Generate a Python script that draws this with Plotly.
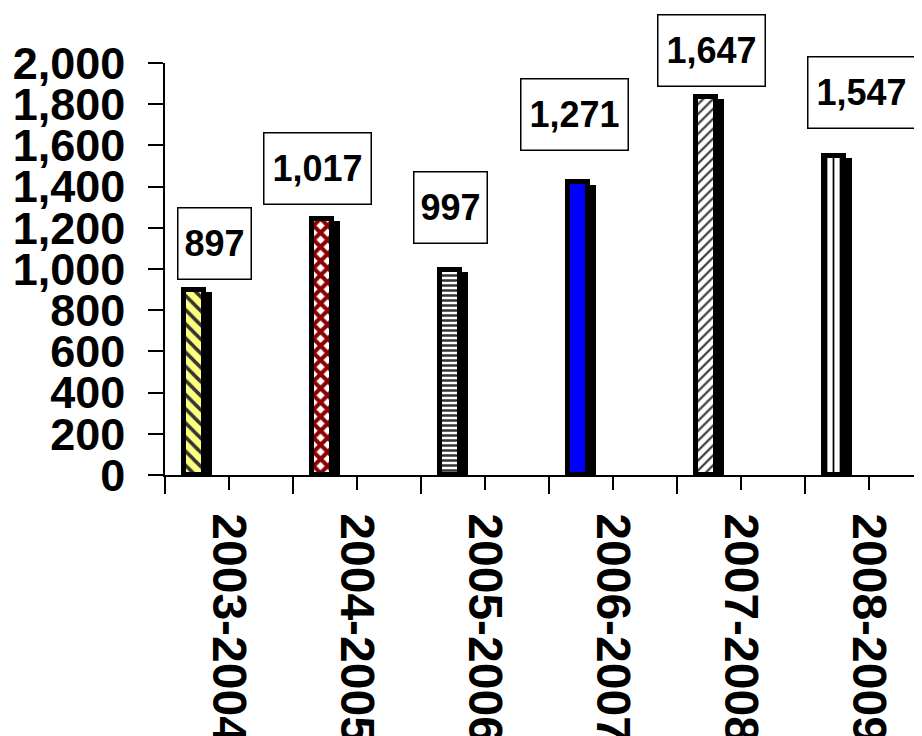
import plotly.graph_objects as go

# ---- data ----
periods = ["2003-2004", "2004-2005", "2005-2006", "2006-2007", "2007-2008", "2008-2009"]
bar_values = [897, 1245, 997, 1420, 1835, 1547]
label_values = [897, 1017, 997, 1271, 1647, 1547]

# ---- styles ----
bg_colors = ["#FFFF80", "#FFFFFF", "#FFFFFF", "#0000FF", "#FFFFFF", "#FFFFFF"]
fg_colors = ["#333333", "#8B0000", "#333333", "#0000FF", "#333333", "#000000"]
shapes = ["\\", "x", "-", "", "/", "|"]
p_sizes = [10, 10, 5, 8, 7, 7]
p_solid = [0.35, 0.65, 0.5, 0.3, 0.3, 0.25]

label_dx = [-0.113, -0.31, -0.27, -0.30, -0.23, -0.055]   # horizontal nudge of label boxes
label_gap = [10, 14, 26, 31, 10, 27]                        # px gap above bar top

FONT = "Liberation Sans, Arial, sans-serif"
x = list(range(len(periods)))
BAR_OFFSET, BAR_WIDTH = -0.35, 0.155

fig = go.Figure()

# drop-shadow bars
fig.add_trace(go.Bar(
    x=x, y=[v - 10 for v in bar_values],
    offset=-0.30, width=0.165,
    marker=dict(color="black", line=dict(width=0)),
    hoverinfo="skip", showlegend=False,
))

# one trace per bar so each gets its own fill pattern
for i, v in enumerate(bar_values):
    pat = dict(shape=shapes[i], fgcolor=fg_colors[i], bgcolor=bg_colors[i],
               size=p_sizes[i], solidity=p_solid[i], fillmode="replace")
    fig.add_trace(go.Bar(
        x=[x[i]], y=[v],
        offset=BAR_OFFSET, width=BAR_WIDTH,
        marker=dict(color=bg_colors[i], line=dict(color="black", width=5),
                    pattern=pat),
        name=periods[i], showlegend=False,
    ))

for i, (v, lab) in enumerate(zip(bar_values, label_values)):
    txt = f"{lab:,}"
    fig.add_annotation(
        x=i + label_dx[i], y=v, xref="x", yref="y",
        yanchor="bottom", xanchor="center", yshift=label_gap[i],
        text=txt, showarrow=False,
        font=dict(family=FONT, size=36, color="black", weight="bold"),
        bgcolor="white", bordercolor="black", borderwidth=1.5,
        width=70 if len(txt) <= 3 else 104, height=68,
    )

# page body has an 8px default margin -> figure is 8px smaller, margins shifted
fig.update_layout(
    width=914, height=728,
    margin=dict(l=157, r=0, t=55, b=261, autoexpand=False),
    paper_bgcolor="white", plot_bgcolor="white",
    bargap=0,
    barmode="overlay",
    xaxis=dict(
        range=[-0.5, 5.414], automargin=False,
        tickmode="array", tickvals=x, ticktext=periods,
        tickangle=90,
        ticks="outside", ticklen=13, tickwidth=1.5, tickcolor="black",
        minor=dict(tickmode="array", tickvals=[i - 0.5 for i in range(len(periods) + 1)],
                   ticks="outside", ticklen=17, tickwidth=1.5, tickcolor="black"),
        showline=True, linecolor="black", linewidth=1.5,
        showgrid=False, zeroline=False,
        tickfont=dict(family=FONT, size=48, color="black", weight="bold"),
        ticklabelstandoff=14,
        fixedrange=True,
    ),
    yaxis=dict(
        range=[0, 2000], dtick=200, tick0=0, tickformat=",", automargin=False,
        ticks="outside", ticklen=15, tickwidth=1.5, tickcolor="black",
        showline=True, linecolor="black", linewidth=1.5,
        showgrid=False, zeroline=False,
        tickfont=dict(family=FONT, size=45, color="black", weight="bold"),
        ticklabelstandoff=14,
        fixedrange=True,
    ),
)

fig.write_html("out.html")
